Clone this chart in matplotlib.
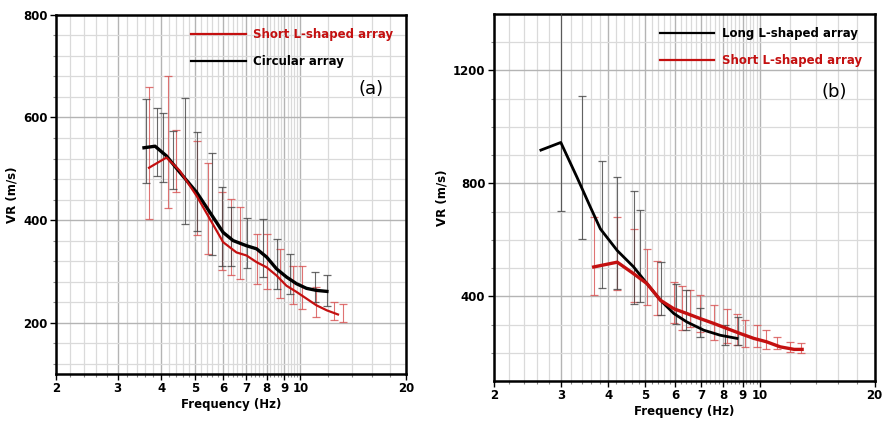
import numpy as np
import matplotlib
matplotlib.use("Agg")
import matplotlib.pyplot as plt
from matplotlib.ticker import FixedLocator, NullFormatter

plt.rcParams['font.family'] = ['DejaVu Sans']

# ---- panel (a) data ----
circ_freq = [3.57, 3.84, 4.14, 4.52, 5.05, 5.51, 6.01, 6.42, 7.01, 7.49, 8.0, 8.54, 9.12, 9.74, 10.4, 11.1, 11.9]
circ_vr = [541, 544, 525, 493, 454, 415, 376, 360, 350, 344, 328, 305, 289, 276, 267, 263, 261]
circ_bar_freq = [3.61, 3.88, 4.05, 4.33, 4.69, 5.05, 5.59, 5.95, 6.35, 7.01, 7.82, 8.54, 9.33, 10.99, 11.9]
circ_bar_lo = [473, 486, 474, 460, 392, 379, 332, 311, 311, 306, 289, 266, 256, 240, 232]
circ_bar_hi = [636, 619, 609, 573, 637, 571, 530, 465, 425, 405, 403, 363, 334, 298, 292]

shortA_freq = [3.69, 4.14, 4.52, 5.05, 5.51, 6.01, 6.56, 7.01, 7.49, 8.0, 8.54, 9.12, 9.74, 10.4, 11.1, 11.9, 12.8]
shortA_vr = [502, 522, 496, 447, 402, 357, 337, 331, 318, 308, 292, 272, 260, 247, 234, 224, 216]
shortA_bar_freq = [3.70, 4.19, 4.4, 5.05, 5.45, 5.95, 6.35, 6.71, 7.49, 8.0, 8.73, 9.53, 10.07, 11.1, 12.5, 13.2]
shortA_bar_lo = [403, 423, 455, 370, 334, 302, 292, 285, 276, 266, 249, 236, 227, 212, 205, 201]
shortA_bar_hi = [660, 681, 575, 554, 512, 455, 441, 425, 373, 373, 344, 311, 311, 270, 240, 237]

# ---- panel (b) data ----
long_freq = [2.66, 3.0, 3.31, 3.59, 3.81, 4.22, 4.66, 5.05, 5.48, 5.94, 6.43, 7.12, 7.87, 8.70]
long_vr = [918, 945, 821, 715, 639, 562, 504, 445, 386, 339, 309, 280, 262, 251]
long_bar_freq = [3.0, 3.41, 3.85, 4.22, 4.68, 4.85, 5.51, 6.01, 6.41, 6.95, 8.08, 8.74]
long_bar_lo = [701, 604, 430, 427, 372, 380, 333, 301, 280, 255, 227, 227]
long_bar_hi = [1500, 1109, 880, 824, 774, 707, 521, 445, 421, 360, 300, 327]

shortB_freq = [3.66, 4.22, 4.66, 5.05, 5.48, 5.94, 6.43, 6.97, 7.56, 8.19, 8.88, 9.63, 10.4, 11.3, 12.3, 12.9]
shortB_vr = [504, 521, 480, 445, 386, 356, 339, 321, 304, 286, 268, 251, 239, 221, 212, 212]
shortB_bar_freq = [3.66, 4.22, 4.68, 5.05, 5.37, 5.94, 6.24, 6.56, 6.97, 7.56, 8.19, 8.70, 9.15, 9.82, 10.4, 11.1, 12.0, 12.8]
shortB_bar_lo = [404, 424, 380, 368, 333, 306, 280, 290, 275, 245, 233, 227, 221, 221, 215, 215, 204, 200]
shortB_bar_hi = [680, 680, 638, 568, 524, 451, 435, 421, 406, 368, 356, 339, 315, 298, 280, 256, 239, 233]

x_ticks = [2, 3, 4, 5, 6, 7, 8, 9, 10, 20]
x_minor = list(np.arange(2.2, 10, 0.2)) + [12, 14, 16, 18]

RED = '#c41010'
BAR_RED = '#d85050'
BAR_BLACK = '#444444'


def bars(ax, f, lo, hi, color):
    lo = np.array(lo)
    hi = np.array(hi)
    mid = (lo + hi) / 2
    ax.errorbar(f, mid, yerr=(hi - lo) / 2, fmt='none', ecolor=color,
                elinewidth=0.8, capsize=3, capthick=0.9, alpha=0.8, zorder=3)


def style(ax, ylim, ymajor, yminor):
    ax.set_xscale('log')
    ax.set_xlim(2, 20)
    ax.set_ylim(*ylim)
    ax.xaxis.set_major_locator(FixedLocator(x_ticks))
    ax.set_xticklabels([str(t) for t in x_ticks])
    ax.xaxis.set_minor_locator(FixedLocator(x_minor))
    ax.xaxis.set_minor_formatter(NullFormatter())
    ax.set_yticks(ymajor)
    ax.yaxis.set_minor_locator(FixedLocator(yminor))
    ax.grid(which='major', color='#b4b4b4', lw=1.0)
    ax.grid(which='minor', color='#dadada', lw=0.9)
    ax.set_axisbelow(True)
    for s in ax.spines.values():
        s.set_linewidth(1.8)
    ax.tick_params(which='major', direction='out', length=4, width=1, labelsize=8.5, pad=2)
    ax.tick_params(which='minor', direction='out', length=2, width=0.8, color='#888888')
    for lab in ax.get_xticklabels() + ax.get_yticklabels():
        lab.set_fontweight('bold')
    ax.set_xlabel('Frequency (Hz)', fontsize=8.5, fontweight='bold', labelpad=2)
    ax.set_ylabel('VR (m/s)', fontsize=8.5, fontweight='bold', labelpad=3)


def legend(ax):
    leg = ax.legend(loc='upper right', frameon=False, prop={'size': 8.5, 'weight': 'bold'},
                    handlelength=4.6, handletextpad=0.6, labelcolor='linecolor',
                    borderaxespad=0.9, labelspacing=1.2, borderpad=0.2)
    for h in leg.get_lines():
        h.set_linewidth(1.6)


fig = plt.figure(figsize=(8.88, 4.25), dpi=100)

# panel (a)
ax1 = fig.add_axes([0.063, 0.12, 0.394, 0.845])
bars(ax1, shortA_bar_freq, shortA_bar_lo, shortA_bar_hi, BAR_RED)
bars(ax1, circ_bar_freq, circ_bar_lo, circ_bar_hi, BAR_BLACK)
ax1.plot(shortA_freq, shortA_vr, color=RED, lw=1.6, label='Short L-shaped array', zorder=5)
ax1.plot(circ_freq, circ_vr, color='black', lw=2.4, label='Circular array', zorder=4)
style(ax1, (100, 800), [200, 400, 600, 800], np.arange(120, 800, 40))
legend(ax1)
ax1.text(0.9, 0.794, '(a)', transform=ax1.transAxes, fontsize=13, ha='center', va='center')

# panel (b)
ax2 = fig.add_axes([0.556, 0.1035, 0.429, 0.8635])
bars(ax2, shortB_bar_freq, shortB_bar_lo, shortB_bar_hi, BAR_RED)
bars(ax2, long_bar_freq, long_bar_lo, long_bar_hi, BAR_BLACK)
ax2.plot(long_freq, long_vr, color='black', lw=2.0, label='Long L-shaped array', zorder=4)
ax2.plot(shortB_freq, shortB_vr, color=RED, lw=2.4, label='Short L-shaped array', zorder=5)
style(ax2, (100, 1400), [400, 800, 1200], np.arange(200, 1400, 100))
legend(ax2)
ax2.text(0.895, 0.787, '(b)', transform=ax2.transAxes, fontsize=13, ha='center', va='center')

fig.savefig('out.png', dpi=100)
